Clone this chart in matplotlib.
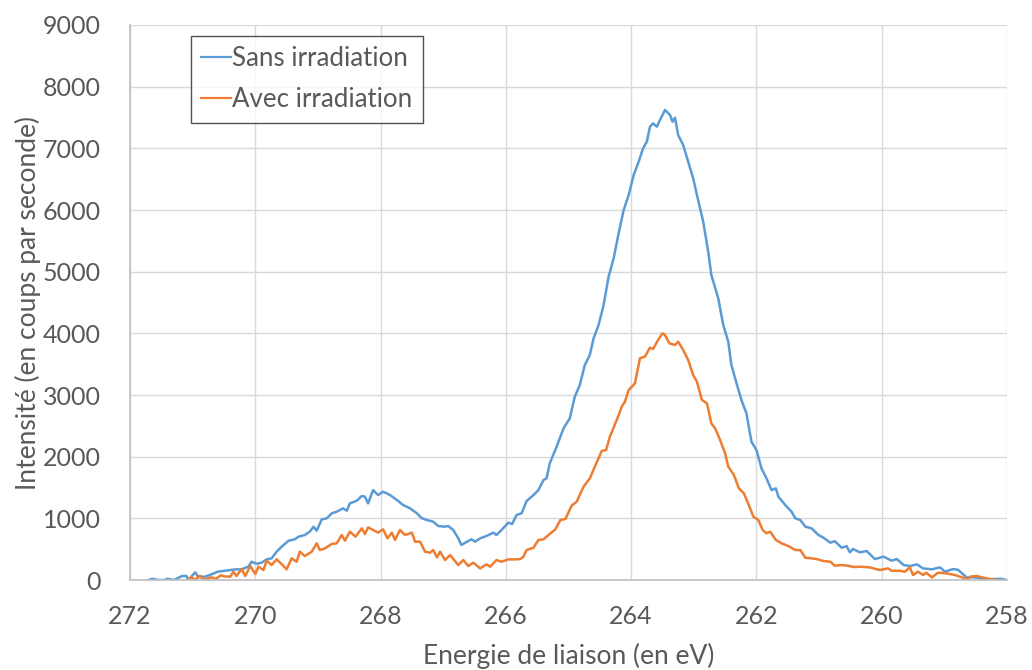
import numpy as np
import matplotlib
matplotlib.use("Agg")
import matplotlib.pyplot as plt

# Spectre XPS : intensité en fonction de l'énergie de liaison
e_sans = [271.70, 271.65, 271.55, 271.45, 271.40, 271.30, 271.17, 271.10, 271.07, 270.96,
          270.91, 270.80, 270.70, 270.60, 270.48, 270.40, 270.32, 270.22, 270.11, 270.06,
          269.98, 269.90, 269.82, 269.74, 269.66, 269.58, 269.47, 269.37, 269.31, 269.21,
          269.13, 269.07, 269.02, 268.94, 268.86, 268.78, 268.70, 268.60, 268.54, 268.49,
          268.38, 268.30, 268.25, 268.20, 268.12, 268.04, 267.96, 267.85, 267.74, 267.64,
          267.53, 267.42, 267.34, 267.26, 267.16, 267.08, 266.97, 266.92, 266.84, 266.76,
          266.71, 266.62, 266.55, 266.49, 266.41, 266.31, 266.20, 266.15, 266.07, 265.96,
          265.90, 265.83, 265.75, 265.67, 265.56, 265.48, 265.40, 265.35, 265.30, 265.19,
          265.08, 264.98, 264.90, 264.82, 264.74, 264.66, 264.60, 264.52, 264.44, 264.36,
          264.28, 264.20, 264.12, 264.04, 263.96, 263.88, 263.81, 263.75, 263.70, 263.65,
          263.59, 263.54, 263.46, 263.38, 263.34, 263.30, 263.25, 263.17, 263.09, 263.01,
          262.95, 262.85, 262.77, 262.72, 262.61, 262.53, 262.45, 262.40, 262.31, 262.24,
          262.16, 262.08, 262.00, 261.92, 261.84, 261.76, 261.69, 261.65, 261.54, 261.44,
          261.38, 261.30, 261.22, 261.12, 261.01, 260.93, 260.82, 260.75, 260.64, 260.56,
          260.51, 260.46, 260.35, 260.24, 260.11, 259.97, 259.84, 259.76, 259.65, 259.55,
          259.44, 259.34, 259.20, 259.07, 258.99, 258.86, 258.78, 258.72, 258.64, 258.55,
          258.45, 258.38, 258.25, 258.10, 258.00]
i_sans = [0, 20, 0, 0, 20, 0, 65, 65, 0, 125,
          50, 55, 92, 135, 151, 162, 173, 173, 216, 297,
          263, 281, 335, 351, 459, 540, 637, 660, 703, 730,
          784, 865, 800, 984, 1000, 1081, 1108, 1162, 1124, 1243,
          1286, 1362, 1351, 1243, 1459, 1378, 1432, 1378, 1297, 1216,
          1162, 1081, 1000, 973, 946, 876, 865, 876, 811, 676,
          568, 622, 660, 622, 676, 714, 768, 730, 811, 930,
          908, 1054, 1081, 1280, 1378, 1459, 1622, 1649, 1892, 2162,
          2459, 2622, 2973, 3162, 3486, 3649, 3919, 4135, 4459, 4919,
          5216, 5622, 6000, 6243, 6568, 6784, 7000, 7108, 7351, 7405,
          7351, 7459, 7622, 7541, 7432, 7497, 7216, 7054, 6784, 6514,
          6243, 5811, 5324, 4946, 4568, 4135, 3865, 3486, 3162, 2919,
          2703, 2243, 2108, 1811, 1649, 1459, 1486, 1351, 1216, 1108,
          1000, 973, 865, 838, 730, 686, 605, 630, 524, 550,
          449, 503, 449, 470, 340, 378, 313, 340, 243, 227,
          254, 189, 173, 205, 135, 178, 165, 108, 40, 45,
          35, 10, 15, 20, 0]

e_avec = [271.07, 271.02, 270.97, 270.88, 270.83, 270.78, 270.70, 270.63, 270.55, 270.50,
          270.40, 270.35, 270.30, 270.22, 270.16, 270.08, 270.00, 269.95, 269.87, 269.82,
          269.74, 269.66, 269.58, 269.50, 269.42, 269.34, 269.29, 269.21, 269.10, 269.02,
          268.97, 268.89, 268.78, 268.70, 268.62, 268.57, 268.49, 268.40, 268.30, 268.25,
          268.20, 268.12, 268.04, 267.96, 267.89, 267.82, 267.77, 267.69, 267.61, 267.50,
          267.45, 267.37, 267.29, 267.21, 267.16, 267.10, 267.05, 266.97, 266.89, 266.76,
          266.68, 266.60, 266.52, 266.41, 266.31, 266.25, 266.15, 266.07, 265.96, 265.85,
          265.77, 265.72, 265.67, 265.56, 265.48, 265.40, 265.32, 265.21, 265.13, 265.05,
          264.95, 264.87, 264.76, 264.66, 264.58, 264.47, 264.40, 264.34, 264.23, 264.15,
          264.10, 264.04, 263.94, 263.86, 263.78, 263.70, 263.65, 263.57, 263.50, 263.46,
          263.39, 263.30, 263.25, 263.17, 263.09, 263.01, 262.95, 262.87, 262.79, 262.72,
          262.66, 262.58, 262.50, 262.45, 262.36, 262.28, 262.20, 262.10, 262.05, 261.97,
          261.90, 261.84, 261.78, 261.69, 261.60, 261.49, 261.38, 261.30, 261.22, 261.12,
          261.04, 260.93, 260.82, 260.75, 260.64, 260.54, 260.45, 260.35, 260.19, 260.03,
          259.90, 259.84, 259.71, 259.63, 259.55, 259.50, 259.42, 259.34, 259.29, 259.20,
          259.10, 258.97, 258.83, 258.72, 258.64, 258.59, 258.48, 258.40, 258.32, 258.25,
          258.15]
i_avec = [0, 50, 0, 70, 0, 20, 45, 20, 76, 60,
          54, 135, 65, 178, 65, 227, 97, 216, 162, 313,
          243, 335, 259, 173, 351, 297, 459, 389, 459, 595,
          486, 513, 584, 595, 730, 638, 784, 703, 838, 746,
          854, 811, 768, 822, 676, 768, 649, 811, 730, 768,
          622, 622, 459, 443, 486, 367, 459, 324, 405, 243,
          324, 227, 281, 189, 254, 216, 324, 297, 335, 335,
          340, 378, 486, 524, 649, 660, 730, 822, 973, 990,
          1205, 1270, 1514, 1649, 1838, 2092, 2108, 2324, 2595, 2811,
          2892, 3081, 3189, 3595, 3622, 3768, 3746, 3892, 4000, 3973,
          3838, 3811, 3865, 3730, 3568, 3324, 3216, 2919, 2865, 2541,
          2459, 2270, 2054, 1838, 1703, 1486, 1405, 1162, 1027, 973,
          811, 757, 784, 649, 595, 551, 486, 486, 362, 351,
          340, 308, 297, 232, 243, 232, 211, 216, 205, 162,
          189, 150, 150, 135, 205, 81, 135, 81, 119, 43,
          119, 108, 81, 43, 10, 54, 65, 43, 27, 10,
          0]

x_ticks = [272, 270, 268, 266, 264, 262, 260, 258]
y_ticks = [0, 1000, 2000, 3000, 4000, 5000, 6000, 7000, 8000, 9000]

plt.rcParams['font.family'] = ['Lato', 'DejaVu Sans']
gris = '#595959'

fig = plt.figure(figsize=(10.32, 6.70), dpi=100)
ax = fig.add_axes([0.126, 0.1343, 0.8498, 0.8284])

ax.plot(e_sans, i_sans, color='#5B9BD5', lw=1.8, label='Sans irradiation')
ax.plot(e_avec, i_avec, color='#ED7D31', lw=1.8, label='Avec irradiation')

ax.set_xlim(272, 258)
ax.set_ylim(0, 9000)
ax.set_xticks(x_ticks)
ax.set_yticks(y_ticks)
ax.grid(True, color='#D9D9D9', lw=1.0)
ax.set_axisbelow(True)

for s in ['top', 'right']:
    ax.spines[s].set_visible(False)
for s in ['left', 'bottom']:
    ax.spines[s].set_color('#BFBFBF')
    ax.spines[s].set_linewidth(1.2)

ax.tick_params(axis='both', length=0, labelsize=18, labelcolor=gris)
ax.tick_params(axis='y', pad=21)
ax.tick_params(axis='x', pad=18)

ax.set_xlabel('Energie de liaison (en eV)', fontsize=19, color=gris, labelpad=11)
ax.set_ylabel('Intensité (en coups par seconde)', fontsize=19, color=gris, labelpad=1)

leg = ax.legend(loc='upper left', bbox_to_anchor=(0.0696, 0.980), borderaxespad=0,
                fontsize=18.6, frameon=True, fancybox=False, handlelength=1.15,
                handletextpad=0.05, labelspacing=0.62, borderpad=0.4)
leg.get_frame().set_edgecolor('#262626')
leg.get_frame().set_linewidth(1.0)
for t in leg.get_texts():
    t.set_color(gris)
for h in leg.get_lines():
    h.set_linewidth(1.6)

fig.savefig('out.png', dpi=100)
